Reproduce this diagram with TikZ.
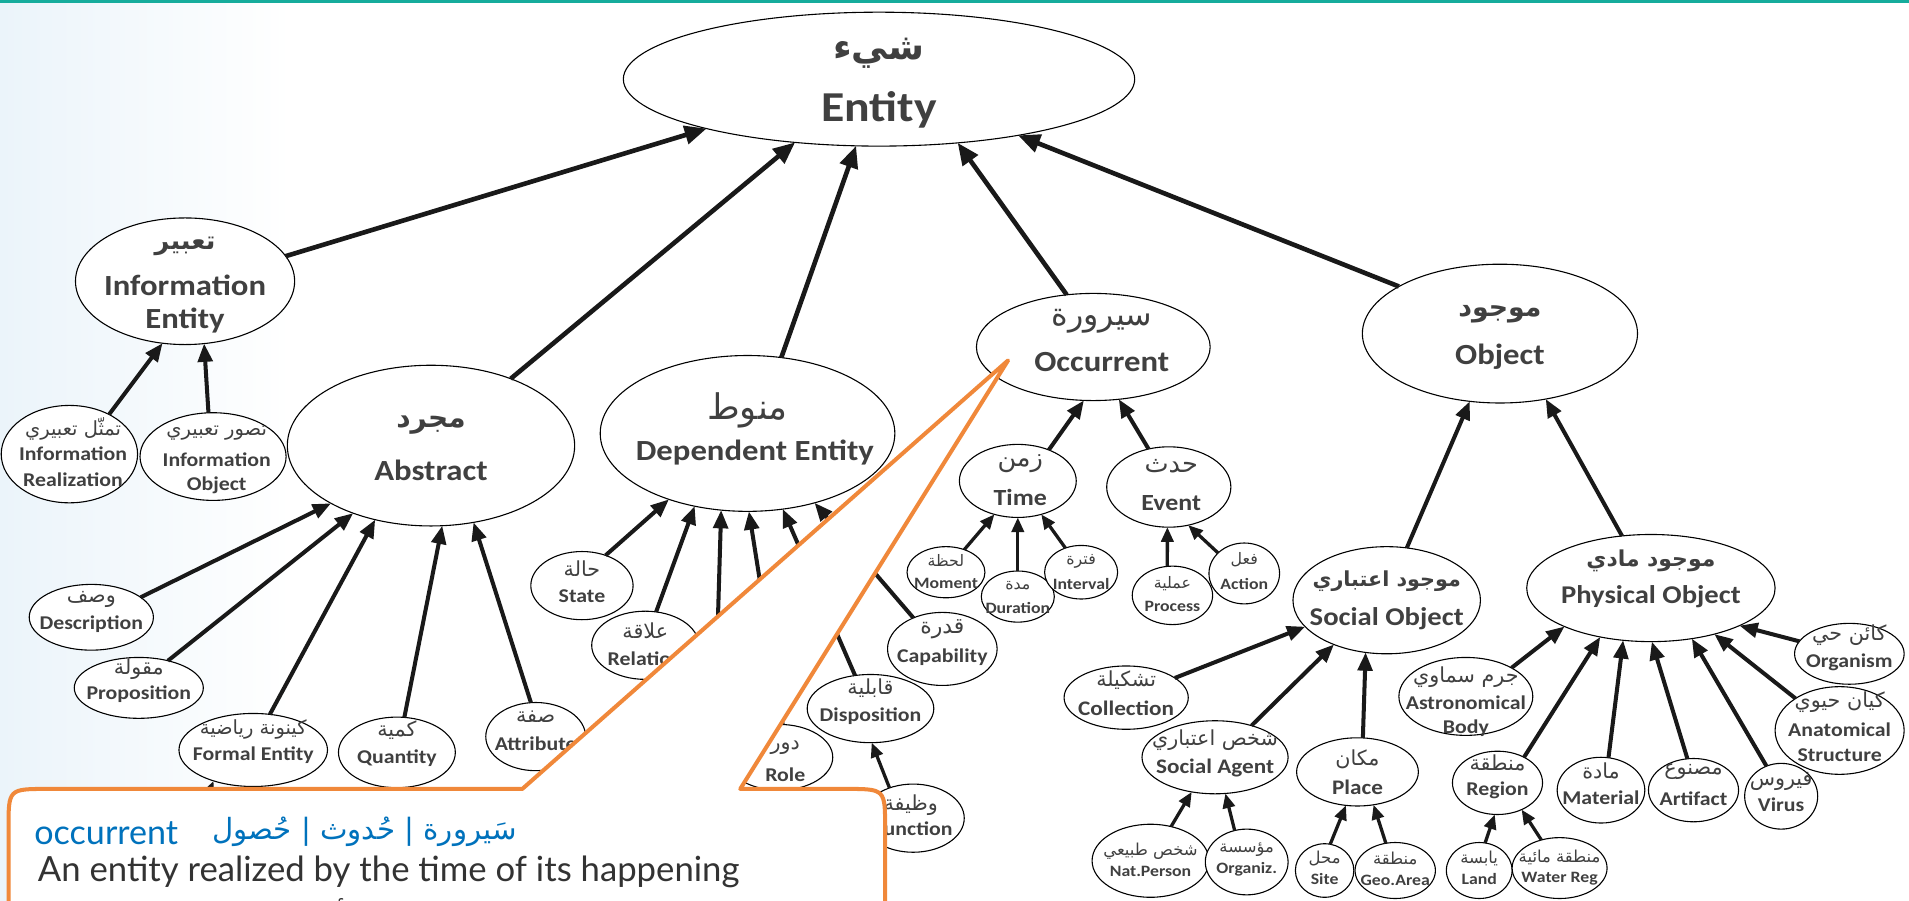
\documentclass[tikz,border=0pt]{standalone}
\usepackage{fontspec}
\usetikzlibrary{shapes.geometric,arrows.meta}
\setmainfont{Carlito}
\newfontfamily\enf{Carlito}[FakeStretch=1.12]
\newfontfamily\arf[Script=Arabic]{DejaVu Sans}
\newfontfamily\cof{Lato}
\TeXXeTstate=1
\definecolor{txtgray}{HTML}{404040}
\definecolor{defgray}{HTML}{333333}
\definecolor{calblue}{HTML}{0072BC}
\definecolor{calorange}{HTML}{F0883A}
\definecolor{topteal}{HTML}{16AC9C}
\definecolor{hazeblue}{HTML}{EBF4FA}

\newcommand\fz[1]{\fontsize{#1}{#1}\selectfont}
% ellipse: name, cx, cy, rx, ry
\newcommand\ovl[5]{\node[el,minimum width={2*#4},minimum height={2*#5}] (#1) at (#2,#3) {};}
% Arabic line (already wrapped in \beginR..\endR): name, x, y, font, text
\newcommand\artxt[5]{\node[ar,font={\arf #4}] (#1) at (#2,#3) {#5};}
% English line: name, x, y, size, text
\newcommand\entxt[5]{\node[en,font={\enf\bfseries\fz{#4}}] (#1) at (#2,#3) {#5};}

\tikzset{
  el/.style={ellipse, draw=black, line width=0.9pt, fill=white, inner sep=0pt, outer sep=0pt},
  en/.style={text=txtgray, inner sep=0pt},
  ar/.style={text=txtgray, inner sep=0pt},
  big/.style={line width=3.8pt, draw=black!90, -{Triangle[length=18pt,width=15pt]}},
  mid/.style={line width=3.3pt, draw=black!90, -{Triangle[length=15pt,width=12pt]}},
  sml/.style={line width=2.7pt, draw=black!90, -{Triangle[length=12pt,width=10pt]}},
}

\begin{document}
\begin{tikzpicture}[x=1pt,y=-1pt]
\useasboundingbox (0,0) rectangle (1568,740);

% background tint and top rule
\shade[left color=hazeblue, right color=white] (0,2.5) rectangle (240,740);
\fill[topteal] (0,0) rectangle (1568,2.8);

% ---------- ellipses ----------
\ovl{ent}{722}{65}{210}{55}
\ovl{ie}{152}{231}{90}{52}
\ovl{ir}{57}{373}{56}{40}
\ovl{io}{175}{375}{60}{36}
\ovl{abs}{354}{366}{118}{66}
\ovl{dep}{614}{356}{121}{64}
\ovl{occ}{898}{285}{96}{44}
\ovl{obj}{1232}{274}{113}{57}
\ovl{tim}{836}{395}{48}{30}
\ovl{evt}{960}{400}{51}{33}
\ovl{mom}{777}{470}{32}{21}
\ovl{dur}{836}{490}{30}{21}
\ovl{itv}{888}{470}{30}{22}
\ovl{prc}{963}{489}{33}{24}
\ovl{act}{1022}{471}{29}{25}
\ovl{soc}{1139}{493}{77}{44}
\ovl{phy}{1356}{483}{102}{44}
\ovl{col}{925}{573}{51}{26}
\ovl{sag}{998}{622}{60}{30}
\ovl{plc}{1115}{634}{50}{28}
\ovl{nat}{945}{707}{48}{30}
\ovl{org}{1024}{708}{34}{27}
\ovl{sit}{1088}{715}{24}{22}
\ovl{geo}{1146}{715}{33}{23}
\ovl{lnd}{1215}{715}{27}{23}
\ovl{wat}{1281}{713}{39}{25}
\ovl{reg}{1230}{643}{37}{26}
\ovl{ast}{1204}{572}{55}{32}
\ovl{mat}{1315}{649}{36}{27}
\ovl{art}{1391}{649}{37}{26}
\ovl{vir}{1463}{654}{30}{27}
\ovl{ana}{1511}{600}{53}{36}
\ovl{orgm}{1519}{537}{45}{25}
\ovl{des}{75}{507}{51}{27}
\ovl{pro}{114}{565}{53}{25}
\ovl{frm}{208}{616}{61}{30}
\ovl{qty}{326}{618}{48}{29}
\ovl{att}{440}{605}{41}{28}
\ovl{sta}{478}{481}{42}{28}
\ovl{rel}{530}{530}{44}{28}
\ovl{cap}{774}{533}{45}{30}
\ovl{dis}{715}{582}{52}{28}
\ovl{rol}{640}{622}{44}{27}
\ovl{fun}{750}{672}{42}{28}
\coordinate (hid1) at (584,700);
\coordinate (hid2) at (150,700);

% ---------- is-a links ----------
\draw[big] (ie.14) -- (ent.196);
\draw[big] (abs.40) -- (ent.217);
\draw[big] (dep.66) -- (ent.251);
\draw[big] (occ.117) -- (ent.321);
\draw[big] (obj.155) -- (ent.338);

\draw[mid] (ir.45) -- (ie.250);
\draw[mid] (io.96) -- (ie.287);

\draw[mid] (des.22) -- (abs.210);
\draw[mid] (pro.43) -- (abs.221);
\draw[mid] (frm.65) -- (abs.233);
\draw[mid] (qty.78) -- (abs.278);
\draw[mid] (att.98) -- (abs.299);
\draw[mid] (hid2) -- (frm.218);

\draw[mid] (sta.52) -- (dep.220);
\draw[mid] (rel.72) -- (dep.234);
\draw[mid] (hid1) -- (dep.251);
\draw[mid] (rol.84) -- (dep.271);
\draw[mid] (dis.115) -- (dep.295);
\draw[mid] (cap.133) -- (dep.314);
\draw[sml] (fun.128) -- (dis.272);

\draw[mid] (tim.45) -- (occ.260);
\draw[mid] (evt.118) -- (occ.296);
\draw[sml] (mom.51) -- (tim.235);
\draw[sml] (dur.90) -- (tim.270);
\draw[sml] (itv.123) -- (tim.305);
\draw[sml] (prc.100) -- (evt.268);
\draw[sml] (act.142) -- (evt.297);

\draw[mid] (soc.69) -- (obj.246);
\draw[mid] (phy.119) -- (obj.305);
\draw[mid] (col.22) -- (soc.198);
\draw[mid] (sag.41) -- (soc.220);
\draw[mid] (plc.81) -- (soc.248);
\draw[sml] (nat.59) -- (sag.236);
\draw[sml] (org.111) -- (sag.286);
\draw[sml] (sit.78) -- (plc.251);
\draw[sml] (geo.109) -- (plc.296);
\draw[sml] (lnd.78) -- (reg.265);
\draw[sml] (wat.123) -- (reg.312);
\draw[mid] (ast.32) -- (phy.204);
\draw[mid] (reg.44) -- (phy.224);
\draw[mid] (mat.77) -- (phy.242);
\draw[mid] (art.101) -- (phy.271);
\draw[mid] (vir.116) -- (phy.309);
\draw[mid] (ana.144) -- (phy.324);
\draw[mid] (orgm.166) -- (phy.337);

% ---------- labels ----------
\artxt{ent-a}{722}{44}{\bfseries\fz{30}}{\beginR شيء\endR}
\entxt{ent-e}{722}{90}{35}{Entity}

\artxt{ie-a}{152}{202}{\bfseries\fz{21}}{\beginR تعبير\endR}
\entxt{ie-e1}{152}{234}{24}{Information}
\entxt{ie-e2}{152}{263}{24}{Entity}

\artxt{ir-a}{60}{352}{\fz{16}}{\beginR تمثّل تعبيري\endR}
\entxt{ir-e1}{60}{373}{16}{Information}
\entxt{ir-e2}{60}{394}{16}{Realization}

\artxt{io-a}{178}{356}{\fz{16}}{\beginR تصور تعبيري\endR}
\entxt{io-e1}{178}{378}{16}{Information}
\entxt{io-e2}{178}{399}{16}{Object}

\artxt{abs-a}{354}{349}{\bfseries\fz{23}}{\beginR مجرد\endR}
\entxt{abs-e}{354}{386}{24}{Abstract}

\artxt{dep-a}{614}{337}{\fz{29}}{\beginR منوط\endR}
\entxt{dep-e}{620}{372}{24}{Dependent Entity}

\artxt{occ-a}{905}{264}{\fz{26}}{\beginR سيرورة\endR}
\entxt{occ-e}{905}{297}{24}{Occurrent}

\artxt{obj-a}{1232}{258}{\bfseries\fz{22}}{\beginR موجود\endR}
\entxt{obj-e}{1232}{293}{24}{Object}

\artxt{tim-a}{838}{381}{\fz{21}}{\beginR زمن\endR}
\entxt{tim-e}{838}{409}{19}{Time}

\artxt{evt-a}{962}{383}{\fz{21}}{\beginR حدث\endR}
\entxt{evt-e}{962}{413}{19}{Event}

\artxt{mom-a}{777}{460}{\fz{13}}{\beginR لحظة\endR}
\entxt{mom-e}{777}{479}{13}{Moment}
\artxt{dur-a}{836}{481}{\fz{13}}{\beginR مدة\endR}
\entxt{dur-e}{836}{499}{13}{Duration}
\artxt{itv-a}{888}{461}{\fz{13}}{\beginR فترة\endR}
\entxt{itv-e}{888}{480}{13}{Interval}
\artxt{prc-a}{963}{479}{\fz{13}}{\beginR عملية\endR}
\entxt{prc-e}{963}{498}{13}{Process}
\artxt{act-a}{1022}{460}{\fz{13}}{\beginR فعل\endR}
\entxt{act-e}{1022}{480}{13}{Action}

\artxt{soc-a}{1139}{477}{\bfseries\fz{17}}{\beginR موجود اعتباري\endR}
\entxt{soc-e}{1139}{508}{21}{Social Object}
\artxt{phy-a}{1356}{461}{\bfseries\fz{18}}{\beginR موجود مادي\endR}
\entxt{phy-e}{1356}{490}{21}{Physical Object}

\artxt{col-a}{925}{559}{\fz{17}}{\beginR تشكيلة\endR}
\entxt{col-e}{925}{582}{17}{Collection}
\artxt{sag-a}{998}{608}{\fz{17}}{\beginR شخص اعتباري\endR}
\entxt{sag-e}{998}{631}{17}{Social Agent}
\artxt{plc-a}{1115}{624}{\fz{17}}{\beginR مكان\endR}
\entxt{plc-e}{1115}{647}{17}{Place}

\artxt{nat-a}{945}{699}{\fz{13.5}}{\beginR شخص طبيعي\endR}
\entxt{nat-e}{945}{716}{13}{Nat.Person}
\artxt{org-a}{1024}{698}{\fz{13.5}}{\beginR مؤسسة\endR}
\entxt{org-e}{1024}{714}{13}{Organiz.}
\artxt{sit-a}{1088}{705}{\fz{13.5}}{\beginR محل\endR}
\entxt{sit-e}{1088}{722}{13}{Site}
\artxt{geo-a}{1146}{705}{\fz{13.5}}{\beginR منطقة\endR}
\entxt{geo-e}{1146}{723}{13}{Geo.Area}
\artxt{lnd-a}{1215}{705}{\fz{13.5}}{\beginR يابسة\endR}
\entxt{lnd-e}{1215}{722}{13}{Land}
\artxt{wat-a}{1281}{704}{\fz{13.5}}{\beginR منطقة مائية\endR}
\entxt{wat-e}{1281}{722}{13}{Water Reg}

\artxt{reg-a}{1230}{627}{\fz{17}}{\beginR منطقة\endR}
\entxt{reg-e}{1230}{649}{16}{Region}
\artxt{ast-a}{1204}{556}{\fz{17}}{\beginR جرم سماوي\endR}
\entxt{ast-e1}{1204}{577}{16}{Astronomical}
\entxt{ast-e2}{1204}{598}{16}{Body}
\artxt{mat-a}{1315}{633}{\fz{17}}{\beginR مادة\endR}
\entxt{mat-e}{1315}{655}{16}{Material}
\artxt{art-a}{1391}{634}{\fz{17}}{\beginR مصنوع\endR}
\entxt{art-e}{1391}{656}{16}{Artifact}
\artxt{vir-a}{1463}{642}{\fz{17}}{\beginR فيروس\endR}
\entxt{vir-e}{1463}{661}{16}{Virus}
\artxt{ana-a}{1511}{577}{\fz{17}}{\beginR كيان حيوي\endR}
\entxt{ana-e1}{1511}{599}{16}{Anatomical}
\entxt{ana-e2}{1511}{620}{16}{Structure}
\artxt{orgm-a}{1519}{522}{\fz{17}}{\beginR كائن حي\endR}
\entxt{orgm-e}{1519}{544}{16}{Organism}

\artxt{des-a}{75}{492}{\fz{17}}{\beginR وصف\endR}
\entxt{des-e}{75}{513}{16}{Description}
\artxt{pro-a}{114}{550}{\fz{17}}{\beginR مقولة\endR}
\entxt{pro-e}{114}{570}{16}{Proposition}
\artxt{frm-a}{208}{599}{\fz{16}}{\beginR كينونة رياضية\endR}
\entxt{frm-e}{208}{620}{16}{Formal Entity}
\artxt{qty-a}{326}{600}{\fz{17}}{\beginR كمية\endR}
\entxt{qty-e}{326}{623}{16}{Quantity}
\artxt{att-a}{440}{589}{\fz{17}}{\beginR صفة\endR}
\entxt{att-e}{440}{611}{16}{Attribute}

\artxt{sta-a}{478}{467}{\fz{17}}{\beginR حالة\endR}
\entxt{sta-e}{478}{490}{16}{State}
\artxt{rel-a}{530}{518}{\fz{17}}{\beginR علاقة\endR}
\entxt{rel-e}{530}{541}{16}{Relation}
\artxt{cap-a}{774}{517}{\fz{18}}{\beginR قدرة\endR}
\entxt{cap-e}{774}{540}{16}{Capability}
\artxt{dis-a}{715}{565}{\fz{17}}{\beginR قابلية\endR}
\entxt{dis-e}{715}{588}{16}{Disposition}
\artxt{rol-a}{645}{614}{\fz{17}}{\beginR دور\endR}
\entxt{rol-e}{645}{636}{16}{Role}
\artxt{fun-a}{748}{661}{\fz{17}}{\beginR وظيفة\endR}
\entxt{fun-e}{750}{681}{16}{Function}

% ---------- definition callout pointing at Occurrent ----------
\draw[line width=3.3pt, draw=calorange, fill=white, line join=round]
  (7,780) -- (7,680) .. controls (7,648) .. (39,648) -- (429,648)
  -- (828,296) -- (608,648) -- (695,648) .. controls (727,648) .. (727,680)
  -- (727,780);
\node[anchor=west, font={\cof\fz{28}}, text=calblue, inner sep=0pt] (cw) at (28,684) {occurrent};
\node[anchor=west, font={\arf\fz{24}}, text=calblue, inner sep=0pt] (ca) at (174,683) {\beginR سَيرورة | حُدوث | حُصول\endR};
\node[anchor=west, font={\cof\fz{28.5}}, text=defgray, inner sep=0pt] (cd) at (31,716) {An entity realized by the time of its happening};
\node[anchor=west, font={\arf\fz{24}}, text=defgray, inner sep=0pt] (cr) at (141,753) {\beginR الشيء الذي تتحقق ذاته بأجزائه الزمانية\endR};
\end{tikzpicture}
\end{document}
